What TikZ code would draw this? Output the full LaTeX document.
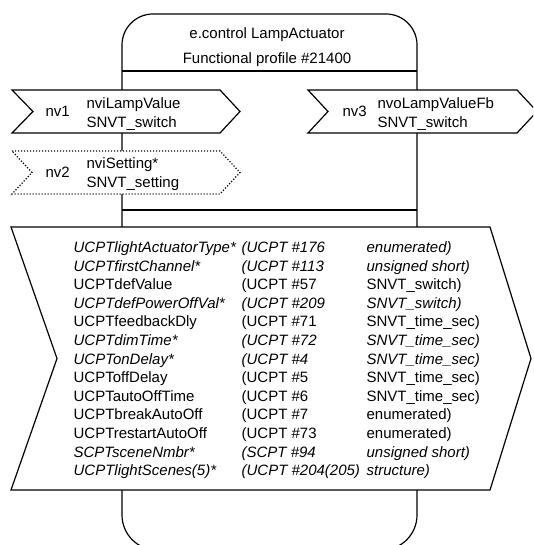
\documentclass[tikz,border=0pt]{standalone}
\usepackage{fontspec}
\setmainfont{Liberation Sans}
\newcommand\tabrow[5]{%
  \node[#2] (r#1a) at (73,{252.4+18.6*(#1-1)}) {#3};
  \node[#2] (r#1b) at (241,{252.4+18.6*(#1-1)}) {#4};
  \node[#2] (r#1c) at (366,{252.4+18.6*(#1-1)}) {#5};}
\begin{document}
\begin{tikzpicture}[x=1pt,y=-1pt,line width=1.2pt,line join=miter,
  up/.style={inner sep=0pt,anchor=base west,font=\fontsize{15}{18}\selectfont},
  it/.style={inner sep=0pt,anchor=base west,font=\fontsize{15}{18}\selectfont\itshape},
  hdr/.style={inner sep=0pt,anchor=base,font=\fontsize{15}{18}\selectfont},
  blockshape/.style={draw=black,fill=white},
  dots/.style={draw=black,fill=white,dash pattern=on 1.2pt off 1.8pt}]
\useasboundingbox (0,0) rectangle (533,545);
\begin{scope}
\clip (0,0) rectangle (533,545);
% body outline
\draw[rounded corners=31] (122,300) -- (122,14) -- (417,14) -- (417,300);
\draw[rounded corners=35] (122,300) -- (122,550) -- (417,550) -- (417,300);
\draw (122,71) -- (417,71);
\draw (122,210) -- (417,210);
\node[hdr] (title) at (267,38.5) {e.control LampActuator};
\node[hdr] (profile) at (267,63.5) {Functional profile \#21400};
% nv1
\path[blockshape] (12,90) -- (220,90) -- (240,111.5) -- (220,133) -- (12,133) -- (33,111.5) -- cycle;
\node[up] (nv1) at (45,117) {nv1};
\node[up] (nv1n) at (86,108.5) {nviLampValue};
\node[up] (nv1t) at (86,127.2) {SNVT\_switch};
% nv2
\path[dots] (12,151) -- (220,151) -- (240,172.5) -- (220,194) -- (12,194) -- (32,172.5) -- cycle;
\node[up] (nv2) at (45,178) {nv2};
\node[up] (nv2n) at (86,169) {nviSetting*};
\node[up] (nv2t) at (86,187.7) {SNVT\_setting};
% nv3
\path[blockshape] (308,90) -- (517,90) -- (537,111.5) -- (517,133) -- (308,133) -- (328,111.5) -- cycle;
\node[up] (nv3) at (342,117) {nv3};
\node[up] (nv3n) at (377,108.5) {nvoLampValueFb};
\node[up] (nv3t) at (377,127.2) {SNVT\_switch};
% configuration properties
\path[blockshape] (11,227) -- (490,227) -- (531,358.5) -- (490,490) -- (11,490) -- (57,358.5) -- cycle;
\tabrow{1}{it}{UCPTlightActuatorType*}{(UCPT \#176}{enumerated)}
\tabrow{2}{it}{UCPTfirstChannel*}{(UCPT \#113}{unsigned short)}
\tabrow{3}{up}{UCPTdefValue}{(UCPT \#57}{SNVT\_switch)}
\tabrow{4}{it}{UCPTdefPowerOffVal*}{(UCPT \#209}{SNVT\_switch)}
\tabrow{5}{up}{UCPTfeedbackDly}{(UCPT \#71}{SNVT\_time\_sec)}
\tabrow{6}{it}{UCPTdimTime*}{(UCPT \#72}{SNVT\_time\_sec)}
\tabrow{7}{it}{UCPTonDelay*}{(UCPT \#4}{SNVT\_time\_sec)}
\tabrow{8}{up}{UCPToffDelay}{(UCPT \#5}{SNVT\_time\_sec)}
\tabrow{9}{up}{UCPTautoOffTime}{(UCPT \#6}{SNVT\_time\_sec)}
\tabrow{10}{up}{UCPTbreakAutoOff}{(UCPT \#7}{enumerated)}
\tabrow{11}{up}{UCPTrestartAutoOff}{(UCPT \#73}{enumerated)}
\tabrow{12}{it}{SCPTsceneNmbr*}{(SCPT \#94}{unsigned short)}
\tabrow{13}{it}{UCPTlightScenes(5)*}{(UCPT \#204(205)}{structure)}
\end{scope}
\end{tikzpicture}
\end{document}
